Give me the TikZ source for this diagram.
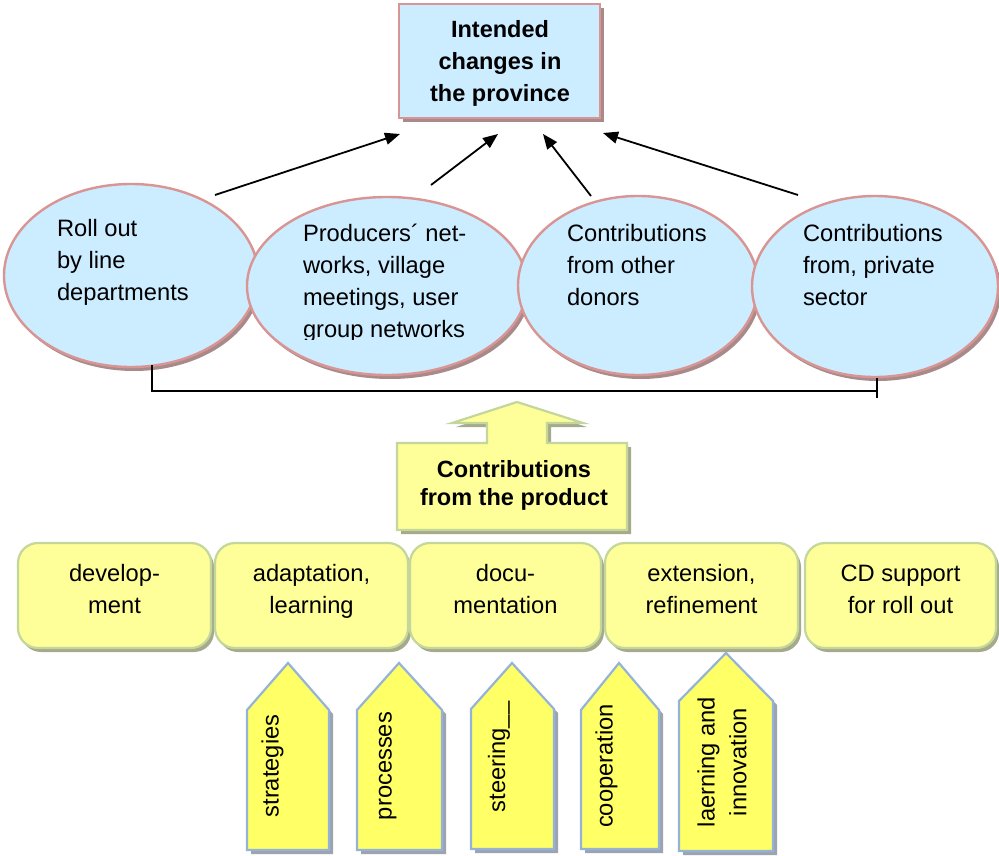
\documentclass[tikz,border=0pt]{standalone}
\usepackage{fontspec}
\setmainfont{Liberation Sans}
\usetikzlibrary{shapes.geometric,shadows,arrows.meta}

\definecolor{skyfill}{HTML}{CCECFF}
\definecolor{pinkline}{HTML}{D99594}
\definecolor{pinkshadow}{HTML}{A98A8A}
\definecolor{paleyellow}{HTML}{FFFF99}
\definecolor{oliveline}{HTML}{C3D69B}
\definecolor{oliveshadow}{HTML}{A6A98A}
\definecolor{brightyellow}{HTML}{FFFF66}
\definecolor{steelline}{HTML}{95B3D7}
\definecolor{steelshadow}{HTML}{9EA3B2}

\tikzset{
  txt/.style={font=\fontsize{23.7}{31.7}\selectfont, inner sep=0pt, outer sep=0pt},
  boldtxt/.style={font=\fontsize{23.5}{32}\selectfont\bfseries, inner sep=0pt, outer sep=0pt, align=center},
  bubble/.style={ellipse, draw=pinkline, line width=2.4pt, fill=skyfill, inner sep=0pt,
    drop shadow={shadow xshift=3pt, shadow yshift=-4pt, fill=pinkshadow, opacity=1}},
  goalbox/.style={rectangle, draw=pinkline, line width=2.4pt, fill=skyfill, inner sep=0pt,
    drop shadow={shadow xshift=4pt, shadow yshift=-4pt, fill=pinkshadow, opacity=1}},
  stepbox/.style={rectangle, rounded corners=20pt, draw=oliveline, line width=2.2pt, fill=paleyellow,
    inner sep=0pt, minimum height=105pt,
    drop shadow={shadow xshift=3pt, shadow yshift=-4pt, fill=oliveshadow, opacity=1}},
  prodshape/.style={draw=oliveline, line width=2.2pt, fill=paleyellow, line join=miter,
    drop shadow={shadow xshift=4pt, shadow yshift=-4pt, fill=oliveshadow, opacity=1}},
  chev/.style={draw=steelline, line width=2.2pt, fill=brightyellow, line join=miter,
    drop shadow={shadow xshift=4pt, shadow yshift=-4pt, fill=steelshadow, opacity=1}},
  arr/.style={line width=1.8pt, -{Triangle[length=15pt,width=12pt]}},
  bracket/.style={line width=1.6pt}
}

\begin{document}
\begin{tikzpicture}[x=1pt,y=-1pt]
\useasboundingbox (0,0) rectangle (999,856);

% ---- goal box ----
% (multi-line texts are anchored at the baseline of their last line)
\node[goalbox, minimum width=201pt, minimum height=114pt] (goal) at (499.5,61) {};
\node[boldtxt, anchor=base] (goalt) at (500,102) {Intended\\changes in\\the province};

% ---- contributing channels ----
\node[bubble, minimum width=254pt, minimum height=183pt] (e1) at (131,275.5) {};
\node[bubble, minimum width=280pt, minimum height=178pt] (e2) at (387,286) {};
\node[bubble, minimum width=240pt, minimum height=179pt] (e3) at (638,285.5) {};
\node[bubble, minimum width=246pt, minimum height=181pt] (e4) at (875,286.5) {};

\node[txt, align=left, anchor=base west] (e1t) at (57,300) {Roll out\\by line\\departments};
\begin{scope}
  \clip (250,190) rectangle (530,339.5);
  \node[txt, align=left, anchor=base west] (e2t) at (303,337) {Producers´ net-\\works, village\\meetings, user\\group networks};
\end{scope}
\node[txt, align=left, anchor=base west] (e3t) at (567,305) {Contributions\\from other\\donors};
\node[txt, align=left, anchor=base west] (e4t) at (803,305) {Contributions\\from, private\\sector};

% ---- arrows towards the goal ----
\coordinate (s1) at (215,195);  \coordinate (g1) at (400,134);
\coordinate (s2) at (431,185);  \coordinate (g2) at (498,134);
\coordinate (s3) at (591,196);  \coordinate (g3) at (543,134);
\coordinate (s4) at (798,195);  \coordinate (g4) at (603,133);
\draw[arr] (s1) -- (g1);
\draw[arr] (s2) -- (g2);
\draw[arr] (s3) -- (g3);
\draw[arr] (s4) -- (g4);

% ---- bracket joining the channels ----
\coordinate (bl) at (152,365);
\coordinate (br) at (877,391);
\coordinate (rt) at (877,378);
\coordinate (rb) at (877,398);
\draw[bracket] (bl) |- (br);
\draw[bracket] (rt) -- (rb);

% ---- product arrow ----
\draw[prodshape] (517,402) -- (583,423) -- (547,423) -- (547,443) -- (627,443)
  -- (627,530) -- (397,530) -- (397,443) -- (487,443) -- (487,423) -- (452,423) -- cycle;
\node[font=\fontsize{23.5}{28}\selectfont\bfseries, inner sep=0pt, align=center, anchor=base]
  (prodt) at (514,505) {Contributions\\from the product};

% ---- product steps ----
\node[stepbox, minimum width=193pt] (r1) at (114.5,595.5) {};
\node[stepbox, minimum width=193pt] (r2) at (311.5,595.5) {};
\node[stepbox, minimum width=191pt] (r3) at (505.5,595.5) {};
\node[stepbox, minimum width=193pt] (r4) at (701.5,595.5) {};
\node[stepbox, minimum width=191pt] (r5) at (900.5,595.5) {};

\node[txt, align=center, anchor=base] (r1t) at (114.5,613) {develop-\\ment};
\node[txt, align=center, anchor=base] (r2t) at (311.5,613) {adaptation,\\learning};
\node[txt, align=center, anchor=base] (r3t) at (505.5,613) {docu-\\mentation};
\node[txt, align=center, anchor=base] (r4t) at (701.5,613) {extension,\\refinement};
\node[txt, align=center, anchor=base] (r5t) at (900.5,613) {CD support\\for roll out};

% ---- inputs ----
\draw[chev] (247,710) -- (288,663) -- (329,710) -- (329,850) -- (247,850) -- cycle;
\draw[chev] (357,710) -- (399,663) -- (442,710) -- (442,850) -- (357,850) -- cycle;
\draw[chev] (471,709) -- (512,663) -- (554,709) -- (554,849) -- (471,849) -- cycle;
\draw[chev] (581,710) -- (619,663) -- (659,710) -- (659,849) -- (581,849) -- cycle;
\draw[chev] (679,701) -- (726,653) -- (773,701) -- (773,851) -- (679,851) -- cycle;

\node[txt, rotate=90, anchor=base] (c1t) at (278.5,766) {strategies};
\node[txt, rotate=90, anchor=base] (c2t) at (391.5,766) {processes};
\node[txt, rotate=90, anchor=base] (c3t) at (505,757) {steering\_\_};
\node[txt, rotate=90, anchor=base] (c4t) at (612.5,766) {cooperation};
\node[txt, rotate=90, align=center, anchor=center] (c5t) at (722,762) {laerning and\\innovation};

\end{tikzpicture}
\end{document}
